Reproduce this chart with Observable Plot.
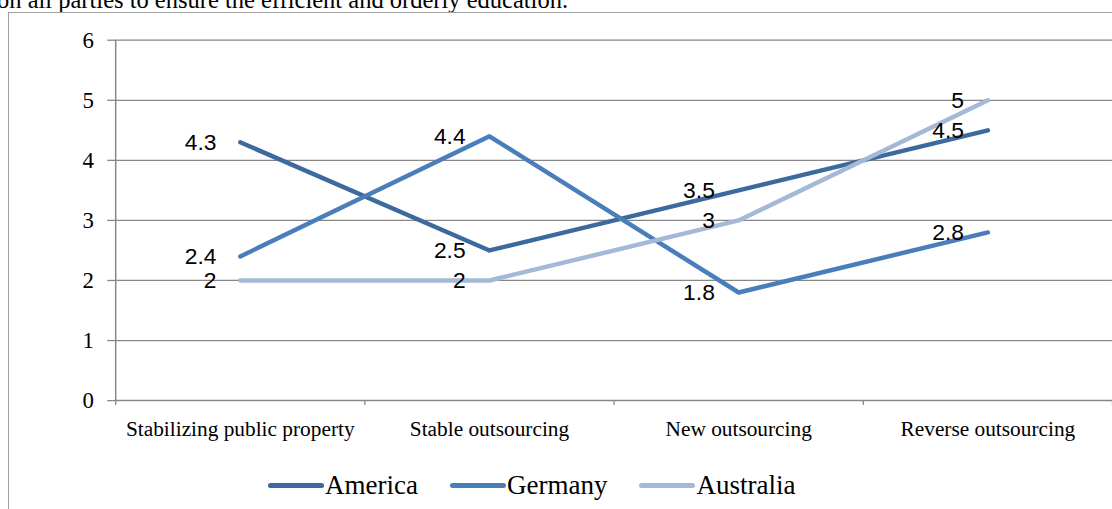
<!DOCTYPE html>
<html><head><meta charset="utf-8">
<script src="https://cdn.jsdelivr.net/npm/d3@7"></script>
<script src="https://cdn.jsdelivr.net/npm/@observablehq/plot@0.6"></script>
<style>
html,body{margin:0;padding:0;background:#fff;}
body{width:1112px;height:509px;position:relative;overflow:hidden;}
#top{position:absolute;left:-3px;top:-12px;font:24.5px "Liberation Serif";white-space:nowrap;line-height:24px;color:#000;}
#frame{position:absolute;left:8px;top:12px;width:2000px;height:2000px;border-left:1.5px solid #a0a0a0;border-top:1.5px solid #a0a0a0;}
#chart{position:absolute;left:0;top:0;}
#legend{position:absolute;top:470px;left:268px;display:flex;align-items:center;font:27px "Liberation Serif";color:#000;}
.item{display:flex;align-items:center;margin-right:32px;}
.sw{width:56px;height:5px;border-radius:3px;margin-right:1px;}
</style></head>
<body>
<div id="top">on all parties to ensure the efficient and orderly education.</div>
<div id="frame"></div>
<div id="chart"></div>
<div id="legend"></div>
<script>
const categories = ["Stabilizing public property", "Stable outsourcing", "New outsourcing", "Reverse outsourcing"];
const seriesNames = ["America", "Germany", "Australia"];
const america = [4.3, 2.5, 3.5, 4.5];
const germany = [2.4, 4.4, 1.8, 2.8];
const australia = [2, 2, 3, 5];
const yTicks = [0, 1, 2, 3, 4, 5, 6];
const colors = ["#3D6A9E", "#4A7EBB", "#A5B8D7"];

const values = [america, germany, australia];
const data = seriesNames.flatMap((s, k) => values[k].map((v, i) => ({series: s, i, category: categories[i], value: v})));
const idx = d3.range(categories.length);
const bounds = d3.range(categories.length + 1).map(i => i - 0.5);

const chart = Plot.plot({
  width: 1120, height: 460,
  marginTop: 40, marginBottom: 57, marginLeft: 116, marginRight: 0,
  x: {type: "linear", domain: [-0.5, categories.length - 0.5], label: null},
  y: {domain: [0, 6], label: null},
  color: {domain: seriesNames, range: colors},
  style: {background: "transparent"},
  marks: [
    Plot.gridY(yTicks.filter(d => d > 0), {stroke: "#878787", strokeOpacity: 1, strokeWidth: 1.3}),
    Plot.ruleY([0], {stroke: "#878787", strokeWidth: 1.5}),
    Plot.ruleX([-0.5], {stroke: "#878787", strokeWidth: 1.5}),
    Plot.axisY({ticks: yTicks, tickFormat: d => String(d), label: null, tickSize: 8, tickPadding: 14, fontSize: 23, fontFamily: "Liberation Serif", stroke: "#878787", fill: "#000", strokeWidth: 1.3}),
    Plot.axisX({ticks: idx, tickFormat: i => categories[i], label: null, tickSize: 0, tickPadding: 20, fontSize: 21.5, fontFamily: "Liberation Serif", fill: "#000"}),
    Plot.axisX({ticks: bounds, tickFormat: () => "", label: null, tickSize: 5, stroke: "#878787", strokeWidth: 1.3}),
    Plot.line(data, {x: "i", y: "value", z: "series", stroke: "series", strokeWidth: 4.5}),
    Plot.text(data, {x: "i", y: "value", text: d => String(d.value), textAnchor: "end", dx: -24, fontSize: 23, fontFamily: "Liberation Sans", fill: "#000"})
  ]
});
document.getElementById("chart").appendChild(chart);

const legend = document.getElementById("legend");
seriesNames.forEach((s, k) => {
  const it = document.createElement("div");
  it.className = "item";
  const sw = document.createElement("div");
  sw.className = "sw";
  sw.style.background = colors[k];
  const t = document.createElement("span");
  t.textContent = s;
  it.appendChild(sw); it.appendChild(t);
  legend.appendChild(it);
});
</script>
</body></html>
